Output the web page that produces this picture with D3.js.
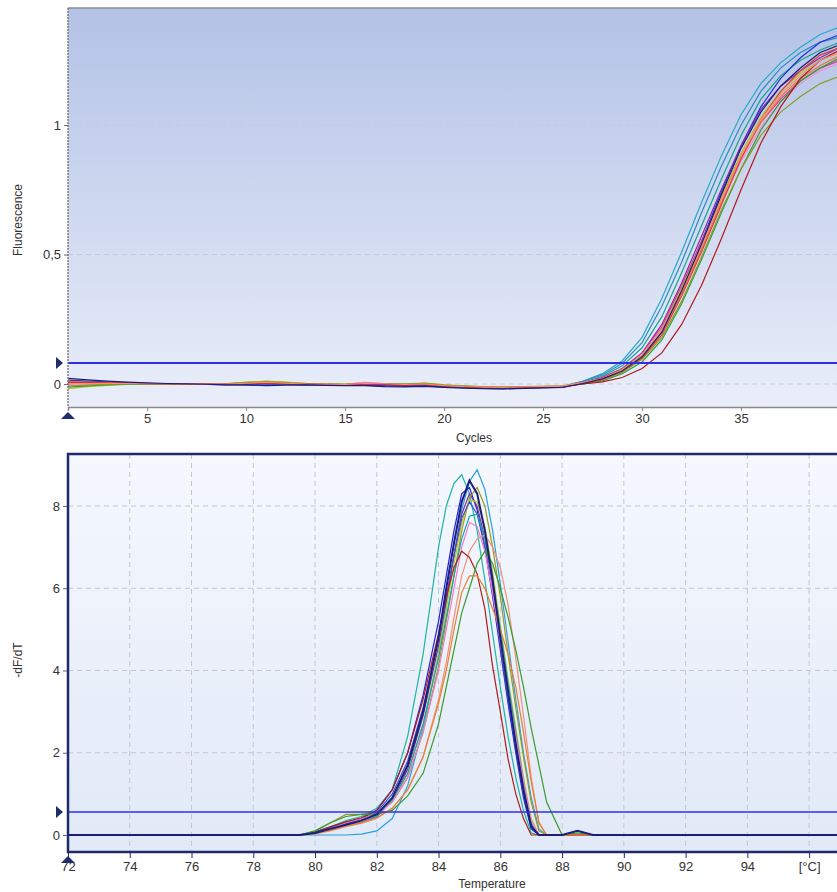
<!DOCTYPE html>
<html>
<head>
<meta charset="utf-8">
<script src="https://cdn.jsdelivr.net/npm/d3@7"></script>
<style>
  body { margin: 0; background: #fff; font-family: "Liberation Sans", Arial, sans-serif; }
  svg text { fill: #333; }
</style>
</head>
<body>
<script>
// ---- amplification data (cycles 1..40) ----
const cycles = d3.range(1, 41);
const ampColors = ["#27a9c9", "#2b8cc4", "#18a38c", "#2232e0", "#8a2aa5", "#e2359b", "#f58bd2", "#f0742a", "#b6c41e", "#2f9e3c", "#8d9b2b", "#e03a3a", "#b3191e", "#f3907c", "#1c1c78"];
const ampCyan = [0.012,0.009,0.006,0.004,0.002,0.001,0.0,-0.001,-0.002,-0.001,0.002,0.001,-0.001,-0.003,-0.004,-0.003,-0.005,-0.006,-0.005,-0.01,-0.013,-0.017,-0.018,-0.016,-0.013,-0.008,0.01,0.04,0.09,0.18,0.33,0.51,0.70,0.88,1.04,1.16,1.24,1.30,1.35,1.38];
const ampSteel = [0.008,0.006,0.004,0.003,0.002,0.001,0.001,0.0,-0.001,0.001,0.004,0.002,0.0,-0.002,-0.003,-0.002,-0.004,-0.005,-0.003,-0.009,-0.012,-0.015,-0.016,-0.014,-0.012,-0.009,0.01,0.035,0.08,0.16,0.30,0.47,0.66,0.84,1.0,1.13,1.22,1.28,1.32,1.34];
const ampTeal = [0.005,0.004,0.003,0.002,0.001,0.001,0.0,-0.001,0.0,0.004,0.007,0.004,0.001,-0.001,-0.002,0.0,-0.001,-0.003,0.001,-0.006,-0.01,-0.013,-0.015,-0.013,-0.011,-0.009,0.005,0.03,0.07,0.14,0.26,0.43,0.61,0.79,0.96,1.10,1.19,1.25,1.29,1.32];
const ampBlue = [0.015,0.011,0.007,0.004,0.002,0.001,0.0,-0.002,-0.003,-0.002,0.0,-0.001,-0.003,-0.004,-0.005,-0.004,-0.007,-0.008,-0.007,-0.011,-0.014,-0.017,-0.018,-0.016,-0.014,-0.012,0.005,0.02,0.055,0.11,0.21,0.37,0.55,0.74,0.92,1.07,1.18,1.26,1.32,1.35];
const ampPurple = [0.004,0.004,0.003,0.003,0.002,0.002,0.001,0.0,0.001,0.003,0.005,0.003,0.0,-0.002,-0.003,-0.001,-0.003,-0.004,-0.002,-0.008,-0.011,-0.014,-0.015,-0.013,-0.011,-0.009,0.005,0.025,0.06,0.12,0.23,0.39,0.57,0.75,0.92,1.06,1.15,1.21,1.26,1.30];
const ampMagenta = [0.0,0.002,0.003,0.003,0.002,0.002,0.002,0.001,0.0,0.002,0.004,0.001,-0.001,-0.002,-0.001,0.005,0.001,-0.003,-0.001,-0.007,-0.01,-0.012,-0.013,-0.011,-0.01,-0.008,0.005,0.025,0.06,0.12,0.22,0.38,0.55,0.72,0.88,1.01,1.10,1.17,1.22,1.25];
const ampPink = [-0.005,-0.002,0.0,0.001,0.001,0.001,0.001,0.0,-0.001,0.003,0.006,0.003,0.0,-0.002,-0.001,0.006,0.002,-0.002,0.0,-0.006,-0.009,-0.012,-0.013,-0.011,-0.01,-0.008,0.005,0.02,0.055,0.11,0.21,0.36,0.53,0.70,0.86,0.99,1.09,1.16,1.21,1.24];
const ampOrange = [0.01,0.007,0.005,0.003,0.002,0.001,0.001,0.0,0.001,0.006,0.01,0.006,0.002,0.0,-0.001,0.0,0.0,-0.002,0.003,-0.004,-0.008,-0.011,-0.012,-0.01,-0.009,-0.008,0.005,0.02,0.05,0.10,0.20,0.35,0.52,0.70,0.87,1.01,1.11,1.18,1.23,1.27];
const ampYellow = [-0.018,-0.01,-0.005,-0.002,0.0,0.001,0.001,0.0,0.002,0.007,0.011,0.007,0.003,0.001,0.0,0.001,0.002,0.0,0.004,-0.003,-0.007,-0.01,-0.011,-0.01,-0.009,-0.007,0.005,0.02,0.055,0.11,0.21,0.37,0.54,0.72,0.89,1.03,1.13,1.20,1.25,1.28];
const ampGreen = [-0.012,-0.007,-0.003,-0.001,0.0,0.001,0.0,-0.001,0.0,0.004,0.006,0.002,0.0,-0.002,-0.003,-0.001,0.001,0.0,0.002,-0.005,-0.009,-0.012,-0.013,-0.012,-0.01,-0.009,0.0,0.012,0.04,0.085,0.17,0.31,0.48,0.66,0.83,0.98,1.09,1.17,1.22,1.26];
const ampOlive = [-0.008,-0.004,-0.001,0.0,0.001,0.001,0.0,0.0,0.001,0.005,0.009,0.005,0.001,0.0,-0.001,0.0,0.0,-0.001,0.003,-0.004,-0.008,-0.011,-0.012,-0.011,-0.01,-0.008,0.0,0.015,0.045,0.095,0.18,0.32,0.49,0.67,0.83,0.96,1.05,1.11,1.16,1.19];
const ampRed = [0.006,0.005,0.004,0.003,0.002,0.001,0.001,0.0,-0.001,0.002,0.004,0.002,0.0,-0.001,-0.002,0.003,0.0,-0.003,-0.001,-0.007,-0.011,-0.013,-0.014,-0.012,-0.011,-0.009,0.005,0.018,0.05,0.10,0.19,0.34,0.51,0.69,0.87,1.02,1.13,1.21,1.27,1.30];
const ampDarkred = [0.003,0.003,0.002,0.002,0.001,0.001,0.0,0.0,-0.001,0.001,0.003,0.001,-0.001,-0.002,-0.003,-0.001,-0.002,-0.004,-0.002,-0.008,-0.012,-0.014,-0.015,-0.013,-0.012,-0.01,0.0,0.008,0.025,0.06,0.12,0.23,0.38,0.56,0.75,0.93,1.07,1.18,1.25,1.29];
const ampSalmon = [0.002,0.002,0.002,0.002,0.001,0.001,0.001,0.0,0.0,0.003,0.006,0.003,0.0,-0.001,-0.002,0.002,0.001,-0.002,0.0,-0.006,-0.01,-0.012,-0.013,-0.011,-0.01,-0.008,0.005,0.02,0.05,0.105,0.21,0.36,0.53,0.71,0.88,1.02,1.12,1.19,1.25,1.28];
const ampNavy = [0.022,0.016,0.011,0.007,0.004,0.002,0.001,-0.001,-0.003,-0.004,-0.006,-0.004,-0.003,-0.005,-0.006,-0.006,-0.01,-0.011,-0.009,-0.013,-0.016,-0.018,-0.019,-0.017,-0.015,-0.013,0.002,0.02,0.05,0.105,0.20,0.36,0.54,0.73,0.91,1.05,1.15,1.22,1.28,1.31];
const ampSeries = [ampCyan, ampSteel, ampTeal, ampBlue, ampPurple, ampMagenta, ampPink, ampOrange, ampYellow, ampGreen, ampOlive, ampRed, ampDarkred, ampSalmon, ampNavy];
const ampThreshold = 0.081;
const ampXTicks = [5, 10, 15, 20, 25, 30, 35];
const ampYTicks = [0, 0.5, 1];

// ---- melt curve data ----
const temps = [72, 79.5, 80, 80.5, 81, 81.5, 82, 82.5, 83, 83.5, 84, 84.25, 84.5, 84.75, 85, 85.25, 85.5, 85.75, 86, 86.25, 86.5, 86.75, 87, 87.25, 87.5, 88, 88.5, 89, 97];
const meltColors = ["#1fb5a0", "#2a9fe0", "#2020e0", "#7b2fa0", "#9a9a20", "#b8c820", "#3a50d0", "#1aa0b0", "#f07ac8", "#f09078", "#b01c1c", "#3a9a30", "#e88030", "#1b1f7a"];
const meltTeal = [0,0,0.08,0.2,0.35,0.45,0.65,1.1,2.4,4.4,7.0,8.0,8.55,8.76,8.3,7.4,6.2,4.9,3.6,2.4,1.4,0.6,0.05,0,0,0,0,0,0];
const meltCyan = [0,0,0,0,0,0.02,0.1,0.4,1.2,2.6,4.4,5.6,6.8,7.9,8.6,8.88,8.4,7.4,6.1,4.7,3.3,2.0,0.9,0.15,0,0,0,0,0];
const meltBlue = [0,0,0.08,0.2,0.3,0.4,0.6,1.1,2.0,3.4,5.2,6.3,7.4,8.3,8.45,7.9,7.0,5.8,4.5,3.2,2.0,0.9,0.15,0,0,0,0,0,0];
const meltPurple = [0,0,0.05,0.12,0.22,0.3,0.45,0.85,1.6,2.9,4.6,5.7,6.8,7.8,8.3,8.0,7.2,6.1,4.8,3.5,2.3,1.2,0.25,0,0,0,0,0,0];
const meltOlive = [0,0,0.1,0.3,0.5,0.5,0.55,0.8,1.4,2.5,4.1,5.2,6.3,7.4,8.2,8.45,8.0,7.0,5.8,4.4,3.1,1.9,0.8,0.1,0,0,0,0,0];
const meltYellow = [0,0,0.05,0.15,0.3,0.4,0.5,0.85,1.5,2.7,4.4,5.5,6.6,7.6,8.15,8.1,7.5,6.4,5.1,3.8,2.6,1.4,0.4,0,0,0,0,0,0];
const meltMidblue = [0,0,0.06,0.18,0.28,0.36,0.55,1.0,1.8,3.1,4.8,5.8,6.8,7.7,8.1,7.8,7.0,5.9,4.6,3.3,2.1,1.0,0.2,0,0,0,0,0,0];
const meltTeal2 = [0,0,0.04,0.12,0.22,0.3,0.45,0.85,1.5,2.7,4.3,5.3,6.3,7.2,7.75,7.8,7.2,6.2,5.0,3.7,2.5,1.3,0.3,0,0,0,0,0,0];
const meltPink = [0,0,0.05,0.15,0.3,0.4,0.5,0.8,1.4,2.5,4.0,5.0,6.0,7.0,7.6,7.5,6.9,5.9,4.7,3.5,2.4,1.3,0.35,0,0,0,0,0,0];
const meltSalmon = [0,0,0.03,0.1,0.2,0.28,0.4,0.65,1.1,1.9,3.3,4.2,5.3,6.3,6.9,7.2,7.3,7.0,6.5,5.6,4.3,2.9,1.4,0.3,0,0,0,0,0];
const meltDarkred = [0,0,0.06,0.2,0.32,0.42,0.6,1.1,2.0,3.3,4.9,5.8,6.5,6.9,6.75,6.35,5.5,4.1,3.0,1.85,1.0,0.4,0,0,0,0,0,0,0];
const meltGreen = [0,0,0.1,0.3,0.45,0.5,0.5,0.6,0.95,1.5,2.7,3.6,4.5,5.4,6.0,6.6,6.9,6.6,6.0,5.3,4.5,3.6,2.6,1.7,0.8,0,0.05,0,0];
const meltOrange = [0,0,0.04,0.12,0.22,0.3,0.42,0.65,1.1,1.9,3.2,4.0,5.0,5.9,6.3,6.3,6.0,5.5,5.0,4.4,3.6,2.5,1.3,0.3,0,0,0,0,0];
const meltNavy = [0,0,0.05,0.15,0.25,0.35,0.5,0.9,1.7,3.0,4.8,6.0,7.1,8.1,8.62,8.3,7.4,6.2,4.8,3.5,2.2,1.1,0.2,0,0,0,0.1,0,0];
const meltSeries = [meltTeal, meltCyan, meltBlue, meltPurple, meltOlive, meltYellow, meltMidblue, meltTeal2, meltPink, meltSalmon, meltDarkred, meltGreen, meltOrange, meltNavy];
const meltThreshold = 0.56;
const meltXTicks = [72, 74, 76, 78, 80, 82, 84, 86, 88, 90, 92, 94, 96];
const meltYTicks = [0, 2, 4, 6, 8];

const W = 837, H = 892;
const svg = d3.select("body").append("svg").attr("width", W).attr("height", H);
const defs = svg.append("defs");

function gradient(id, c1, c2) {
  const g = defs.append("linearGradient").attr("id", id)
    .attr("x1", 0).attr("y1", 0).attr("x2", 0).attr("y2", 1);
  g.append("stop").attr("offset", "0%").attr("stop-color", c1);
  g.append("stop").attr("offset", "100%").attr("stop-color", c2);
}
gradient("bgTop", "#b3c2e6", "#e9eef9");
gradient("bgBot", "#f5f8fe", "#e1e9f7");

const markerColor = "#1f2d6b";

// ================= top: amplification =================
const ampBox = { left: 68, right: 840, top: 8, bottom: 407 };
const xA = d3.scaleLinear().domain([1, 40]).range([ampBox.left, ampBox.right]);
const yA = d3.scaleLinear().domain([-0.0888, 1.452]).range([ampBox.bottom, ampBox.top]);

const gA = svg.append("g");
gA.append("rect").attr("x", ampBox.left).attr("y", ampBox.top)
  .attr("width", ampBox.right - ampBox.left).attr("height", ampBox.bottom - ampBox.top)
  .attr("fill", "url(#bgTop)");

// horizontal grid
gA.selectAll(".grid").data(ampYTicks).join("line")
  .attr("x1", ampBox.left).attr("x2", ampBox.right)
  .attr("y1", d => yA(d)).attr("y2", d => yA(d))
  .attr("stroke", "#c4cbdc").attr("stroke-dasharray", "5,4");

// curves
const lineA = d3.line().x((d, i) => xA(cycles[i])).y(d => yA(d));
gA.append("g").selectAll("path").data(ampSeries).join("path")
  .attr("d", lineA).attr("fill", "none")
  .attr("stroke", (d, i) => ampColors[i]).attr("stroke-width", 1.2);

// threshold
gA.append("line").attr("x1", ampBox.left).attr("x2", ampBox.right)
  .attr("y1", yA(ampThreshold)).attr("y2", yA(ampThreshold))
  .attr("stroke", "#2f2fe8").attr("stroke-width", 2);

// frame
gA.append("line").attr("x1", ampBox.left).attr("x2", ampBox.right).attr("y1", ampBox.top).attr("y2", ampBox.top)
  .attr("stroke", "#8a8a8a").attr("stroke-width", 1.5);
gA.append("line").attr("x1", ampBox.left).attr("x2", ampBox.left).attr("y1", ampBox.top).attr("y2", ampBox.bottom)
  .attr("stroke", "#7d7d7d").attr("stroke-width", 1.5).attr("stroke-dasharray", "2,1");

// axes
const axA = d3.axisBottom(xA).tickValues(ampXTicks).tickSize(4).tickPadding(3).tickFormat(d3.format("d"));
const gx = gA.append("g").attr("transform", `translate(0,${ampBox.bottom})`).call(axA);
gx.select(".domain").attr("stroke", "#8a8a8a").attr("stroke-width", 1.5);
gx.selectAll(".tick line").attr("stroke", "#8a8a8a");
gx.selectAll("text").attr("font-size", 13).attr("fill", "#333");

const ayA = d3.axisLeft(yA).tickValues(ampYTicks).tickSize(4).tickPadding(3)
  .tickFormat(d => String(d).replace(".", ","));
const gy = gA.append("g").attr("transform", `translate(${ampBox.left},0)`).call(ayA);
gy.select(".domain").remove();
gy.selectAll(".tick line").attr("stroke", "#666");
gy.selectAll("text").attr("font-size", 13).attr("fill", "#333");

gA.append("text").attr("x", 474).attr("y", 442).attr("text-anchor", "middle")
  .attr("font-size", 12).text("Cycles");
gA.append("text").attr("transform", "translate(22,220) rotate(-90)").attr("text-anchor", "middle")
  .attr("font-size", 12).text("Fluorescence");

// threshold markers
gA.append("path").attr("d", `M${ampBox.left - 12},${yA(ampThreshold) - 6}L${ampBox.left - 5},${yA(ampThreshold)}L${ampBox.left - 12},${yA(ampThreshold) + 6}Z`)
  .attr("fill", markerColor);
gA.append("path").attr("d", `M${ampBox.left - 7},${ampBox.bottom + 12}L${ampBox.left},${ampBox.bottom + 5}L${ampBox.left + 7},${ampBox.bottom + 12}Z`)
  .attr("fill", markerColor);

// ================= bottom: melt curve =================
const meltBox = { left: 68, right: 840, top: 454, bottom: 852 };
const xM = d3.scaleLinear().domain([72, 97]).range([meltBox.left, meltBox.right]);
const yM = d3.scaleLinear().domain([-0.413, 9.264]).range([meltBox.bottom, meltBox.top]);

const gM = svg.append("g");
gM.append("rect").attr("x", meltBox.left).attr("y", meltBox.top)
  .attr("width", meltBox.right - meltBox.left).attr("height", meltBox.bottom - meltBox.top)
  .attr("fill", "url(#bgBot)");

gM.selectAll(".hgrid").data(meltYTicks.filter(d => d > 0)).join("line")
  .attr("x1", meltBox.left).attr("x2", meltBox.right)
  .attr("y1", d => yM(d)).attr("y2", d => yM(d))
  .attr("stroke", "#c3c7d2").attr("stroke-dasharray", "5,4");
gM.selectAll(".vgrid").data(meltXTicks.filter(d => d > 72)).join("line")
  .attr("x1", d => xM(d)).attr("x2", d => xM(d))
  .attr("y1", meltBox.top).attr("y2", meltBox.bottom)
  .attr("stroke", "#c3c7d2").attr("stroke-dasharray", "5,4");

const lineM = d3.line().x((d, i) => xM(temps[i])).y(d => yM(d));
gM.append("g").selectAll("path").data(meltSeries).join("path")
  .attr("d", lineM).attr("fill", "none")
  .attr("stroke", (d, i) => meltColors[i])
  .attr("stroke-width", (d, i) => i === meltSeries.length - 1 ? 2 : 1.2);

gM.append("line").attr("x1", meltBox.left).attr("x2", meltBox.right)
  .attr("y1", yM(meltThreshold)).attr("y2", yM(meltThreshold))
  .attr("stroke", "#2f2fe8").attr("stroke-width", 1.5);

// frame
gM.append("path").attr("d", `M${meltBox.right},${meltBox.top}H${meltBox.left}V${meltBox.bottom}H${meltBox.right}`)
  .attr("fill", "none").attr("stroke", "#1e2a6a").attr("stroke-width", 2.5);

const axM = d3.axisBottom(xM).tickValues(meltXTicks).tickSize(5).tickPadding(4)
  .tickFormat(d => d === 96 ? "[°C]" : d);
const gxm = gM.append("g").attr("transform", `translate(0,${meltBox.bottom + 1})`).call(axM);
gxm.select(".domain").remove();
gxm.selectAll(".tick line").attr("stroke", "#1e2a6a");
gxm.selectAll("text").attr("font-size", 13).attr("fill", "#333");

const ayM = d3.axisLeft(yM).tickValues(meltYTicks).tickSize(4).tickPadding(3);
const gym = gM.append("g").attr("transform", `translate(${meltBox.left - 1},0)`).call(ayM);
gym.select(".domain").remove();
gym.selectAll(".tick line").attr("stroke", "#666");
gym.selectAll("text").attr("font-size", 13).attr("fill", "#333");

gM.append("text").attr("x", 492).attr("y", 888).attr("text-anchor", "middle")
  .attr("font-size", 12).text("Temperature");
gM.append("text").attr("transform", "translate(22,660) rotate(-90)").attr("text-anchor", "middle")
  .attr("font-size", 12).text("-dF/dT");

gM.append("path").attr("d", `M${meltBox.left - 12},${yM(meltThreshold) - 6}L${meltBox.left - 5},${yM(meltThreshold)}L${meltBox.left - 12},${yM(meltThreshold) + 6}Z`)
  .attr("fill", markerColor);
gM.append("path").attr("d", `M${meltBox.left - 7},${meltBox.bottom + 11}L${meltBox.left},${meltBox.bottom + 4}L${meltBox.left + 7},${meltBox.bottom + 11}Z`)
  .attr("fill", markerColor);
</script>
</body>
</html>
